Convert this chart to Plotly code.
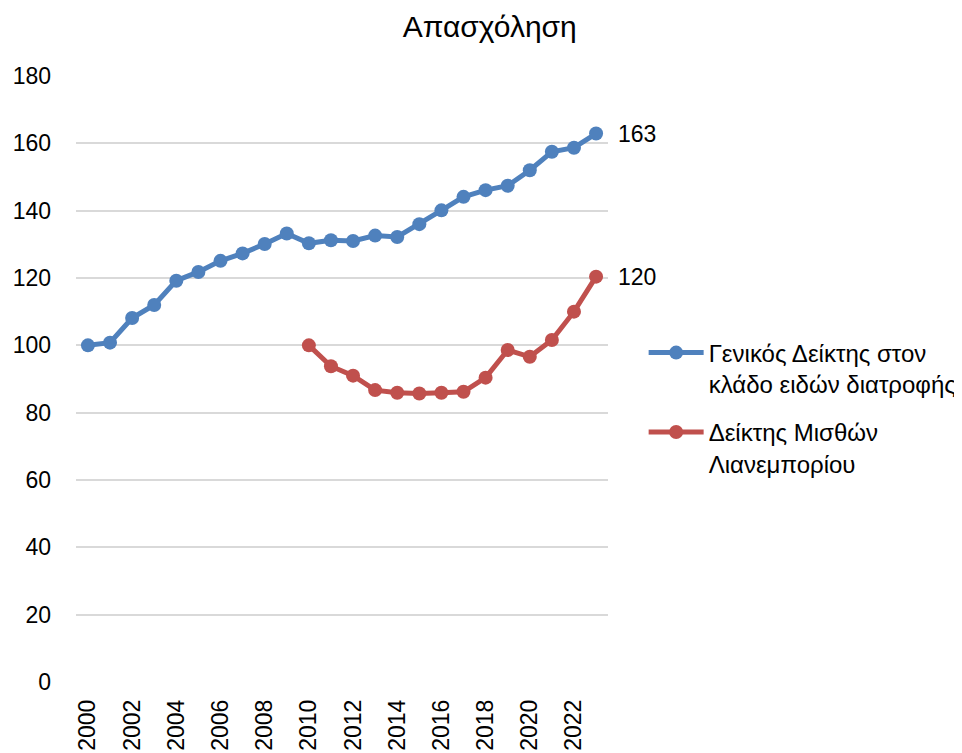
import plotly.graph_objects as go

years = list(range(2000, 2024))
general_index = [100.0, 100.8, 108.1, 112.0, 119.2, 121.8, 125.1, 127.3, 130.1, 133.2,
                 130.3, 131.2, 131.0, 132.6, 132.2, 136.0, 140.1, 144.1, 146.1, 147.4,
                 152.0, 157.5, 158.7, 162.9]
wage_years = list(range(2010, 2024))
wage_index = [100.0, 93.8, 91.0, 86.7, 85.9, 85.7, 85.9, 86.2, 90.4, 98.6,
              96.6, 101.6, 110.0, 120.4]
series_names = ["Γενικός Δείκτης στον<br>κλάδο ειδών διατροφής",
                "Δείκτης Μισθών<br>Λιανεμπορίου"]
end_labels = ["163", "120"]
x_ticks = list(range(2000, 2023, 2))
y_ticks = list(range(0, 181, 20))

FONT = "Liberation Sans, Arial, sans-serif"
BLUE = "#4f81bd"
RED = "#c0504d"

fig = go.Figure()
fig.add_trace(go.Scatter(x=years, y=general_index, mode="lines+markers",
                         name=series_names[0], legendgroup="a",
                         line=dict(color=BLUE, width=5),
                         marker=dict(color=BLUE, size=14)))
fig.add_trace(go.Scatter(x=wage_years, y=wage_index, mode="lines+markers",
                         name=series_names[1], legendgroup="b",
                         line=dict(color=RED, width=5),
                         marker=dict(color=RED, size=14)))

for xs, ys, lab in [(years, general_index, end_labels[0]), (wage_years, wage_index, end_labels[1])]:
    fig.add_annotation(x=xs[-1], y=ys[-1], text=lab, showarrow=False,
                       xanchor="left", yanchor="middle", xshift=20,
                       font=dict(family=FONT, size=23, color="black"))

fig.update_layout(
    width=954, height=745,
    margin=dict(l=68, r=354, t=68, b=71, autoexpand=False),
    paper_bgcolor="white", plot_bgcolor="white",
    font=dict(family=FONT, size=23, color="black"),
    title=dict(text="Απασχόληση", x=0.505, xanchor="center", y=0.975, yanchor="middle",
               yref="container", font=dict(family=FONT, size=30, color="black")),
    legend=dict(x=1.067, xanchor="left", y=0.58, yanchor="top",
                font=dict(family=FONT, size=24, color="black"),
                itemwidth=55, valign="top", tracegroupgap=14,
                bgcolor="rgba(0,0,0,0)"),
    showlegend=True,
)
fig.update_xaxes(range=[1999.46, 2023.54], tickvals=x_ticks, ticktext=[str(v) for v in x_ticks],
                 tickangle=-90, showgrid=False, zeroline=False, showline=False,
                 ticks="", ticklabelstandoff=12, automargin=False,
                 tickfont=dict(family=FONT, size=23, color="black"))
fig.update_yaxes(range=[0, 180], tickvals=y_ticks, showgrid=True, gridcolor="#d9d9d9",
                 gridwidth=2, zeroline=False, showline=False, ticks="",
                 ticklabelstandoff=24, automargin=False,
                 tickfont=dict(family=FONT, size=23, color="black"))

fig.write_html("out.html")
